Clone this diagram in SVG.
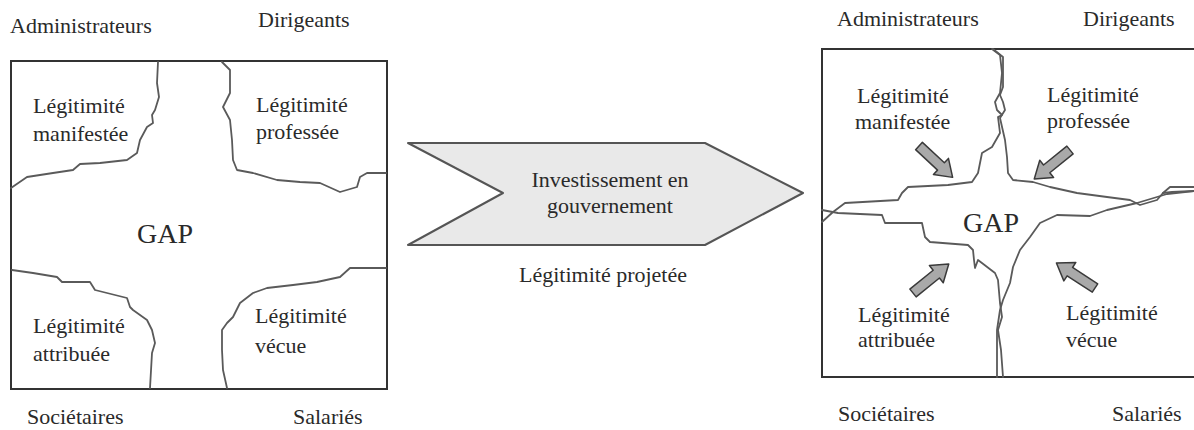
<svg xmlns="http://www.w3.org/2000/svg" xmlns:xlink="http://www.w3.org/1999/xlink" width="1194" height="430" viewBox="0 0 1194 430">
<style>
text{font-family:"Liberation Serif","Times New Roman",serif;font-size:22px;fill:#2a2a2a}
.gap{font-size:28px}
.box{fill:#fff;stroke:#333;stroke-width:2}
.crack{fill:none;stroke:#5a5a5a;stroke-width:1.8;stroke-linejoin:round;stroke-linecap:round}
.mid{text-anchor:middle}
.blk{fill:#a9a9a9;stroke:#3a3a3a;stroke-width:1.5;stroke-linejoin:round}
</style>
<defs>
<polygon id="blockArrow" class="blk" points="0,-5 30,-5 30,-11 46,0 30,11 30,5 0,5"/>
</defs>
<rect width="1194" height="430" fill="#fff"/>

<g id="left-diagram">
  <rect class="box" x="11" y="61" width="376" height="328"/>
  <g id="left-cracks">
    <polyline class="crack" points="158,62 157,83 159,97 155,110 152,115 153,123 147,127 140,140 137,153 127,160 100,163 80,164 73,170 53,173 27,177 11,188"/>
    <polyline class="crack" points="222,62 230,70 230,93 223,107 230,120 232,140 233,160 237,170 253,173 277,180 300,182 320,183 340,192 357,187 360,177 367,173 386,173"/>
    <polyline class="crack" points="12,270 33,273 57,277 62,282 90,282 95,290 127,298 130,307 133,310 147,320 152,330 155,343 152,353 150,388"/>
    <polyline class="crack" points="386,268 350,268 340,277 317,282 293,285 267,288 253,293 240,303 233,317 227,323 222,330 222,350 223,370 227,388"/>
  </g>
  <g id="l-admin"><text x="10" y="33">Administrateurs</text></g>
  <g id="l-dirig"><text x="258" y="27">Dirigeants</text></g>
  <g id="l-manif"><text x="33" y="113">Légitimité</text><text x="33" y="141">manifestée</text></g>
  <g id="l-prof"><text x="256" y="112">Légitimité</text><text x="256" y="139">professée</text></g>
  <g id="l-gap"><text class="gap" x="137" y="243">GAP</text></g>
  <g id="l-attr"><text x="33" y="333">Légitimité</text><text x="33" y="361">attribuée</text></g>
  <g id="l-vecue"><text x="255" y="323">Légitimité</text><text x="255" y="353">vécue</text></g>
  <g id="l-soc"><text x="27" y="424">Sociétaires</text></g>
  <g id="l-sal"><text x="293" y="424">Salariés</text></g>
</g>

<g id="investment-arrow">
  <polygon points="408,143 705,143 803,193 705,245 408,245 503,193" fill="#e9e9e9" stroke="#555" stroke-width="2" stroke-linejoin="round"/>
  <text class="mid" x="610" y="187">Investissement en</text>
  <text class="mid" x="610" y="213">gouvernement</text>
  <text class="mid" x="603" y="282">Légitimité projetée</text>
</g>

<g id="right-diagram">
  <path d="M1200,49 H822 V377 H1200" fill="#fff" stroke="#333" stroke-width="2"/>
  <g id="right-cracks">
    <polyline class="crack" points="992,49 1000,55 1002,73 1000,93 995,102 997,110 1002,115 998,117 1000,133 992,147 982,153 978,173 972,182 948,185 908,187 902,193 898,200 845,203 833,212 822,222"/>
    <polyline class="crack" points="993,49 1003,57 1003,87 1000,95 1003,102 1005,110 1000,118 1005,140 1007,157 1008,173 1013,180 1033,182 1050,187 1077,193 1107,197 1130,200 1140,205 1157,200 1163,193 1170,187 1194,187"/>
    <polyline class="crack" points="1163,193 1172,192 1194,191"/>
    <polyline class="crack" points="1194,191 1167,194 1137,203 1107,210 1090,216 1057,215 1040,223 1030,237 1020,250 1013,267 1010,283 1003,300 1000,310 997,330 997,377"/>
    <polyline class="crack" points="822,210 838,213 882,215 885,223 922,223 925,237 930,242 968,245 973,250 974,260 975,268 978,260 995,273 998,280 1000,303 1002,317 998,330 1001,350 1003,377"/>
  </g>
  <g id="r-arrows">
    <use xlink:href="#blockArrow" transform="translate(919,146) rotate(43)"/>
    <use xlink:href="#blockArrow" transform="translate(1070,150) rotate(141)"/>
    <use xlink:href="#blockArrow" transform="translate(913,293) rotate(-39)"/>
    <use xlink:href="#blockArrow" transform="translate(1095,288) rotate(-147)"/>
  </g>
  <g id="r-admin"><text x="837" y="26">Administrateurs</text></g>
  <g id="r-dirig"><text x="1083" y="26">Dirigeants</text></g>
  <g id="r-manif"><text x="857" y="103">Légitimité</text><text x="855" y="129">manifestée</text></g>
  <g id="r-prof"><text x="1047" y="102">Légitimité</text><text x="1047" y="128">professée</text></g>
  <g id="r-gap"><text class="gap" x="963" y="232">GAP</text></g>
  <g id="r-attr"><text x="858" y="322">Légitimité</text><text x="858" y="347">attribuée</text></g>
  <g id="r-vecue"><text x="1066" y="320">Légitimité</text><text x="1066" y="347">vécue</text></g>
  <g id="r-soc"><text x="838" y="421">Sociétaires</text></g>
  <g id="r-sal"><text x="1112" y="421">Salariés</text></g>
</g>
</svg>
